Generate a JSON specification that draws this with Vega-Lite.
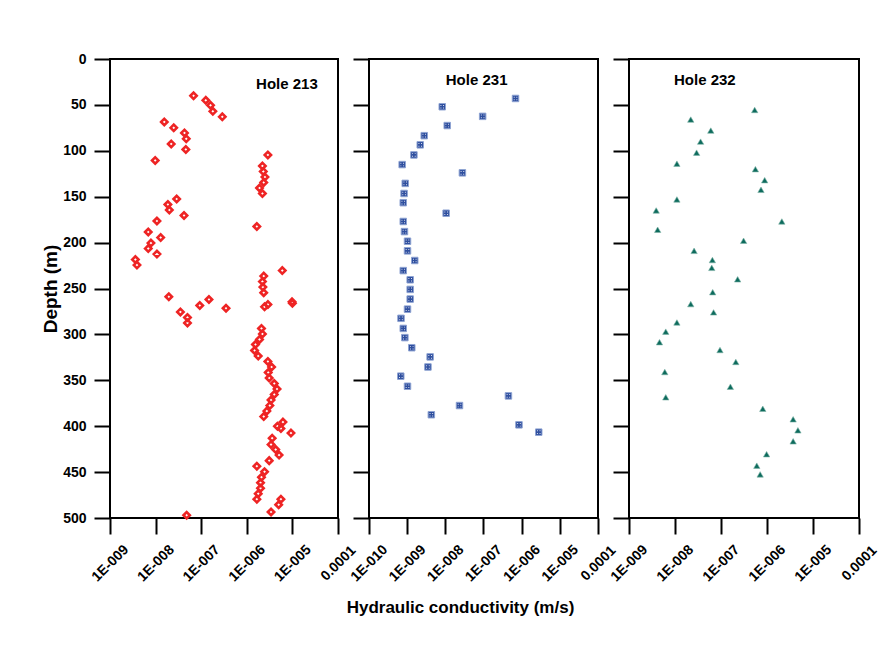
{
  "$schema": "https://vega.github.io/schema/vega-lite/v6.json",
  "padding": {"left": 40, "top": 51, "right": 5, "bottom": 5},
  "background": "white",
  "bounds": "flush",
  "spacing": 31,
  "config": {
    "font": "Liberation Sans",
    "view": {"stroke": "black", "strokeWidth": 2},
    "axis": {
      "domain": false,
      "grid": false,
      "tickColor": "black",
      "tickWidth": 2,
      "labelFont": "Liberation Sans",
      "labelFontWeight": "bold",
      "labelColor": "black",
      "titleFont": "Liberation Sans",
      "titleFontWeight": "bold",
      "titleColor": "black"
    }
  },
  "datasets": {
    "h213": [
      {"depth": 40, "k": 6.8e-8}, {"depth": 45, "k": 1.26e-7}, {"depth": 50.5, "k": 1.6e-7}, {"depth": 57, "k": 1.8e-7},
      {"depth": 63, "k": 2.9e-7}, {"depth": 68.5, "k": 1.55e-8}, {"depth": 75, "k": 2.5e-8}, {"depth": 80.5, "k": 4.3e-8},
      {"depth": 87, "k": 4.7e-8}, {"depth": 92.5, "k": 2.2e-8}, {"depth": 98.5, "k": 4.6e-8}, {"depth": 110.5, "k": 9.8e-9},
      {"depth": 104.5, "k": 2.9e-6}, {"depth": 116.5, "k": 2.2e-6}, {"depth": 122.5, "k": 2.3e-6}, {"depth": 128.5, "k": 2.5e-6},
      {"depth": 134.5, "k": 2.35e-6}, {"depth": 140.5, "k": 1.9e-6}, {"depth": 146.5, "k": 2.2e-6}, {"depth": 152.5, "k": 2.9e-8},
      {"depth": 158.5, "k": 1.86e-8}, {"depth": 164.5, "k": 2.0e-8}, {"depth": 170.5, "k": 4.2e-8}, {"depth": 176.5, "k": 1.07e-8},
      {"depth": 182.5, "k": 1.66e-6}, {"depth": 188.5, "k": 6.9e-9}, {"depth": 194.5, "k": 1.29e-8}, {"depth": 200.5, "k": 7.9e-9},
      {"depth": 206.5, "k": 6.9e-9}, {"depth": 212.5, "k": 1.07e-8}, {"depth": 218.5, "k": 3.6e-9}, {"depth": 224.5, "k": 3.9e-9},
      {"depth": 230.5, "k": 6.0e-6}, {"depth": 236.5, "k": 2.35e-6}, {"depth": 242.5, "k": 2.2e-6}, {"depth": 248.5, "k": 2.25e-6},
      {"depth": 254.5, "k": 2.35e-6}, {"depth": 259, "k": 1.95e-8}, {"depth": 262, "k": 1.48e-7}, {"depth": 268.5, "k": 9.3e-8},
      {"depth": 271.5, "k": 3.5e-7}, {"depth": 275.5, "k": 3.5e-8}, {"depth": 281.5, "k": 5.0e-8}, {"depth": 287.5, "k": 5.0e-8},
      {"depth": 264.5, "k": 9.8e-6}, {"depth": 266, "k": 1.0e-5}, {"depth": 267.5, "k": 2.9e-6}, {"depth": 270, "k": 2.45e-6},
      {"depth": 293.5, "k": 2.1e-6}, {"depth": 299.5, "k": 2.2e-6}, {"depth": 305.5, "k": 1.9e-6}, {"depth": 311, "k": 1.55e-6},
      {"depth": 317.5, "k": 1.48e-6}, {"depth": 323.5, "k": 1.78e-6}, {"depth": 329.5, "k": 2.9e-6}, {"depth": 335.5, "k": 3.5e-6},
      {"depth": 341.5, "k": 2.95e-6}, {"depth": 347.5, "k": 3.1e-6}, {"depth": 353.5, "k": 4.0e-6}, {"depth": 359.5, "k": 4.6e-6},
      {"depth": 365.5, "k": 4.0e-6}, {"depth": 371.5, "k": 3.4e-6}, {"depth": 377.5, "k": 3.2e-6}, {"depth": 383.5, "k": 2.75e-6},
      {"depth": 389.5, "k": 2.35e-6}, {"depth": 395.5, "k": 6.2e-6}, {"depth": 400, "k": 4.7e-6}, {"depth": 402.5, "k": 5.6e-6},
      {"depth": 407.5, "k": 9.3e-6}, {"depth": 413, "k": 3.6e-6}, {"depth": 420, "k": 3.4e-6}, {"depth": 425.5, "k": 4.3e-6},
      {"depth": 431.5, "k": 5.1e-6}, {"depth": 437.5, "k": 3.1e-6}, {"depth": 443.5, "k": 1.66e-6}, {"depth": 449.5, "k": 2.45e-6},
      {"depth": 455.5, "k": 2.1e-6}, {"depth": 461.5, "k": 2.0e-6}, {"depth": 467.5, "k": 2.0e-6}, {"depth": 473.5, "k": 1.78e-6},
      {"depth": 479.5, "k": 1.66e-6}, {"depth": 479.5, "k": 5.6e-6}, {"depth": 485.5, "k": 5.0e-6}, {"depth": 493.5, "k": 3.4e-6},
      {"depth": 497, "k": 4.8e-8}
    ],
    "h231": [
      {"depth": 43, "k": 6.9e-7}, {"depth": 52, "k": 8.3e-9}, {"depth": 62.5, "k": 9.5e-8}, {"depth": 72.5, "k": 1.12e-8},
      {"depth": 83.5, "k": 2.8e-9}, {"depth": 93.5, "k": 2.2e-9}, {"depth": 104.5, "k": 1.5e-9}, {"depth": 115, "k": 7.4e-10},
      {"depth": 124, "k": 2.8e-8}, {"depth": 135.5, "k": 8.9e-10}, {"depth": 146.5, "k": 8.3e-10}, {"depth": 156.5, "k": 7.9e-10},
      {"depth": 168, "k": 1.05e-8}, {"depth": 177, "k": 7.9e-10}, {"depth": 188, "k": 8.5e-10}, {"depth": 198.5, "k": 1.02e-9},
      {"depth": 209, "k": 1.02e-9}, {"depth": 219.5, "k": 1.58e-9}, {"depth": 230.5, "k": 7.9e-10}, {"depth": 240.5, "k": 1.2e-9},
      {"depth": 251, "k": 1.2e-9}, {"depth": 261.5, "k": 1.2e-9}, {"depth": 272.5, "k": 1.02e-9}, {"depth": 282.5, "k": 6.9e-10},
      {"depth": 293.5, "k": 7.9e-10}, {"depth": 303.5, "k": 8.7e-10}, {"depth": 314.5, "k": 1.32e-9}, {"depth": 324.5, "k": 4.0e-9},
      {"depth": 335.5, "k": 3.5e-9}, {"depth": 345.5, "k": 6.8e-10}, {"depth": 356.5, "k": 1.02e-9}, {"depth": 367, "k": 4.5e-7},
      {"depth": 377.5, "k": 2.35e-8}, {"depth": 387.5, "k": 4.3e-9}, {"depth": 398.5, "k": 8.5e-7}, {"depth": 406.5, "k": 2.8e-6}
    ],
    "h232": [
      {"depth": 55.5, "k": 5.4e-7}, {"depth": 66, "k": 2.2e-8}, {"depth": 78, "k": 6.0e-8}, {"depth": 90, "k": 3.6e-8},
      {"depth": 102, "k": 2.95e-8}, {"depth": 114, "k": 1.1e-8}, {"depth": 120, "k": 5.6e-7}, {"depth": 132, "k": 8.9e-7},
      {"depth": 142.5, "k": 7.4e-7}, {"depth": 153, "k": 1.1e-8}, {"depth": 165, "k": 3.9e-9}, {"depth": 177, "k": 2.1e-6},
      {"depth": 186, "k": 4.2e-9}, {"depth": 198, "k": 3.1e-7}, {"depth": 209, "k": 2.6e-8}, {"depth": 219, "k": 6.5e-8},
      {"depth": 227.5, "k": 6.3e-8}, {"depth": 240, "k": 2.3e-7}, {"depth": 254, "k": 6.6e-8}, {"depth": 267, "k": 2.2e-8},
      {"depth": 276, "k": 6.9e-8}, {"depth": 287, "k": 1.1e-8}, {"depth": 297, "k": 6.3e-9}, {"depth": 308.5, "k": 4.6e-9},
      {"depth": 317, "k": 9.5e-8}, {"depth": 330, "k": 2.1e-7}, {"depth": 341, "k": 6.0e-9}, {"depth": 357, "k": 1.6e-7},
      {"depth": 368.5, "k": 6.3e-9}, {"depth": 381, "k": 8.1e-7}, {"depth": 392.5, "k": 3.7e-6}, {"depth": 404.5, "k": 4.7e-6},
      {"depth": 416.5, "k": 3.7e-6}, {"depth": 430.5, "k": 9.8e-7}, {"depth": 443, "k": 6.0e-7}, {"depth": 452.5, "k": 7.1e-7}
    ],
    "labels": [
      {"hole": "Hole 213", "lx": 3.6e-5, "ly": 32.7, "panel": 1},
      {"hole": "Hole 231", "lx": 6.6e-8, "ly": 28.3, "panel": 2},
      {"hole": "Hole 232", "lx": 9.5e-9, "ly": 28.3, "panel": 3}
    ]
  },
  "hconcat": [
    {
      "width": 228,
      "height": 459,
      "layer": [
        {
          "data": {"name": "h213"},
          "mark": {"type": "point", "shape": "diamond", "filled": false, "stroke": "#ee2424", "strokeWidth": 2.6, "size": 40, "opacity": 1},
          "encoding": {
            "x": {
              "field": "k", "type": "quantitative",
              "scale": {"type": "log", "domain": [1e-9, 1e-4]},
              "axis": {
                "title": null,
                "values": [1e-9, 1e-8, 1e-7, 1e-6, 1e-5, 1e-4],
                "labelExpr": "datum.value > 5e-5 ? '0.0001' : (datum.value < 5e-10 ? '1E-010' : '1E-00' + format(-log(datum.value) / LN10, '.0f'))",
                "tickSize": 16,
                "labelAngle": -45,
                "labelAlign": "center",
                "labelBaseline": "middle",
                "labelPadding": 29,
                "labelFontSize": 14,
                "labelOverlap": false,
                "labelBound": false,
                "labelFlush": false
              }
            },
            "y": {
              "field": "depth", "type": "quantitative",
              "scale": {"domain": [0, 500], "reverse": true, "nice": false, "zero": false},
              "axis": {
                "title": "Depth (m)",
                "titleFontSize": 19,
                "titleX": -54,
                "titleY": 229.5,
                "titleAngle": -90,
                "titleAlign": "center",
                "titleBaseline": "alphabetic",
                "values": [0, 25, 50, 75, 100, 125, 150, 175, 200, 225, 250, 275, 300, 325, 350, 375, 400, 425, 450, 475, 500],
                "labelExpr": "datum.value % 50 === 0 ? datum.label : ''",
                "tickSize": {"condition": {"test": "datum.value % 50 === 0", "value": 16}, "value": 9},
                "labelPadding": 8,
                "labelFontSize": 14,
                "labelOverlap": false,
                "labelFlush": false,
                "labelBound": false
              }
            }
          }
        },
        {
          "data": {"name": "labels"},
          "transform": [{"filter": "datum.panel === 1"}],
          "mark": {"type": "text", "align": "right", "baseline": "alphabetic", "font": "Liberation Sans", "fontWeight": "bold", "fontSize": 15, "color": "black"},
          "encoding": {
            "x": {"field": "lx", "type": "quantitative"},
            "y": {"field": "ly", "type": "quantitative"},
            "text": {"field": "hole", "type": "nominal"}
          }
        }
      ]
    },
    {
      "width": 229,
      "height": 459,
      "layer": [
        {
          "data": {"name": "h231"},
          "mark": {"type": "point", "shape": "square", "filled": true, "fill": "#2f4f9f", "stroke": "#8ea3d2", "strokeWidth": 1, "size": 42, "opacity": 1},
          "encoding": {
            "x": {
              "field": "k", "type": "quantitative",
              "scale": {"type": "log", "domain": [1e-10, 1e-4]},
              "axis": {
                "title": "Hydraulic conductivity (m/s)",
                "titleFontSize": 17,
                "titleX": 91,
                "titleY": 94,
                "titleAlign": "center",
                "titleBaseline": "alphabetic",
                "values": [1e-10, 1e-9, 1e-8, 1e-7, 1e-6, 1e-5, 1e-4],
                "labelExpr": "datum.value > 5e-5 ? '0.0001' : (datum.value < 5e-10 ? '1E-010' : '1E-00' + format(-log(datum.value) / LN10, '.0f'))",
                "tickSize": 16,
                "labelAngle": -45,
                "labelAlign": "center",
                "labelBaseline": "middle",
                "labelPadding": 29,
                "labelFontSize": 14,
                "labelOverlap": false,
                "labelBound": false,
                "labelFlush": false
              }
            },
            "y": {
              "field": "depth", "type": "quantitative",
              "scale": {"domain": [0, 500], "reverse": true, "nice": false, "zero": false},
              "axis": {
                "title": null,
                "values": [0, 25, 50, 75, 100, 125, 150, 175, 200, 225, 250, 275, 300, 325, 350, 375, 400, 425, 450, 475, 500],
                "labels": false,
                "tickSize": {"condition": {"test": "datum.value % 50 === 0", "value": 16}, "value": 9}
              }
            }
          }
        },
        {
          "data": {"name": "h231"},
          "mark": {"type": "point", "shape": "M-0.6,-0.6h0.32v0.32h-0.32zM0.28,-0.6h0.32v0.32h-0.32zM-0.6,0.28h0.32v0.32h-0.32zM0.28,0.28h0.32v0.32h-0.32z", "filled": true, "fill": "white", "strokeWidth": 0, "size": 36, "opacity": 0.85},
          "encoding": {
            "x": {"field": "k", "type": "quantitative"},
            "y": {"field": "depth", "type": "quantitative"}
          }
        },
        {
          "data": {"name": "labels"},
          "transform": [{"filter": "datum.panel === 2"}],
          "mark": {"type": "text", "align": "center", "baseline": "alphabetic", "font": "Liberation Sans", "fontWeight": "bold", "fontSize": 15, "color": "black"},
          "encoding": {
            "x": {"field": "lx", "type": "quantitative"},
            "y": {"field": "ly", "type": "quantitative"},
            "text": {"field": "hole", "type": "nominal"}
          }
        }
      ]
    },
    {
      "width": 230,
      "height": 459,
      "layer": [
        {
          "data": {"name": "h232"},
          "mark": {"type": "point", "shape": "triangle-up", "filled": true, "fill": "#0d6b5d", "stroke": "#7fb3a8", "strokeWidth": 0.6, "size": 40, "opacity": 1},
          "encoding": {
            "x": {
              "field": "k", "type": "quantitative",
              "scale": {"type": "log", "domain": [1e-9, 1e-4]},
              "axis": {
                "title": null,
                "values": [1e-9, 1e-8, 1e-7, 1e-6, 1e-5, 1e-4],
                "labelExpr": "datum.value > 5e-5 ? '0.0001' : (datum.value < 5e-10 ? '1E-010' : '1E-00' + format(-log(datum.value) / LN10, '.0f'))",
                "tickSize": 16,
                "labelAngle": -45,
                "labelAlign": "center",
                "labelBaseline": "middle",
                "labelPadding": 29,
                "labelFontSize": 14,
                "labelOverlap": false,
                "labelBound": false,
                "labelFlush": false
              }
            },
            "y": {
              "field": "depth", "type": "quantitative",
              "scale": {"domain": [0, 500], "reverse": true, "nice": false, "zero": false},
              "axis": {
                "title": null,
                "values": [0, 25, 50, 75, 100, 125, 150, 175, 200, 225, 250, 275, 300, 325, 350, 375, 400, 425, 450, 475, 500],
                "labels": false,
                "tickSize": {"condition": {"test": "datum.value % 50 === 0", "value": 16}, "value": 9}
              }
            }
          }
        },
        {
          "data": {"name": "labels"},
          "transform": [{"filter": "datum.panel === 3"}],
          "mark": {"type": "text", "align": "left", "baseline": "alphabetic", "font": "Liberation Sans", "fontWeight": "bold", "fontSize": 15, "color": "black"},
          "encoding": {
            "x": {"field": "lx", "type": "quantitative"},
            "y": {"field": "ly", "type": "quantitative"},
            "text": {"field": "hole", "type": "nominal"}
          }
        }
      ]
    }
  ]
}
